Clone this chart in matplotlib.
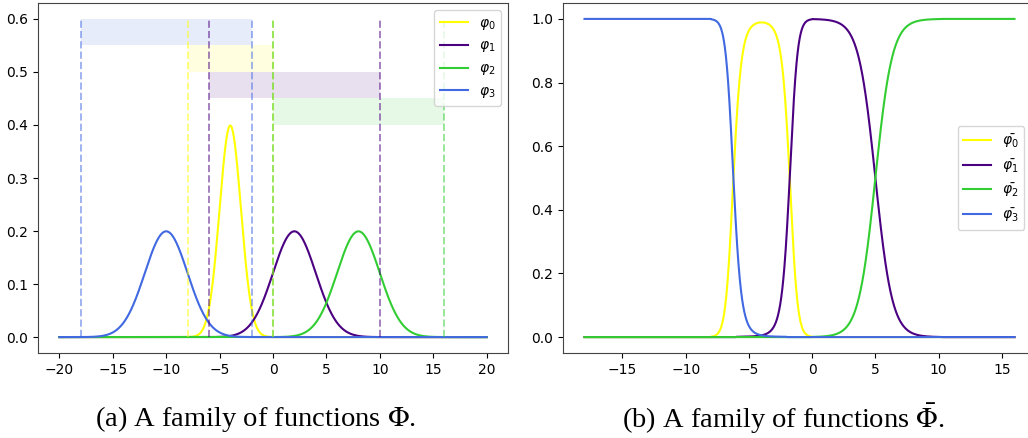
import numpy as np
import matplotlib
matplotlib.use('Agg')
import matplotlib.pyplot as plt

# parametros das funcoes (gaussianas)
labels = ['0', '1', '2', '3']
centros = [-4, 2, 8, -10]
sigmas = [1, 2, 2, 2]
janelas = [(-8, 0), (-6, 10), (0, 16), (-18, -2)]
faixas_y = [0.50, 0.45, 0.40, 0.55]
cores = ['#ffff00', '#4b0082', '#32cd32', '#4169e1']


def gauss(x, m, s):
    return np.exp(-(x - m) ** 2 / (2 * s ** 2)) / (s * np.sqrt(2 * np.pi))


fig = plt.figure(figsize=(10.28, 4.38), dpi=100)
ax1 = fig.add_axes([38 / 1028, 1 - 353 / 438, 470 / 1028, 350 / 438])
ax2 = fig.add_axes([563 / 1028, 1 - 353 / 438, 473 / 1028, 350 / 438])

# (a) familia de funcoes
x = np.linspace(-20, 20, 2001)
for i in range(4):
    ax1.plot(x, gauss(x, centros[i], sigmas[i]), color=cores[i], lw=1.5,
             label=r'$\varphi_%s$' % labels[i])
for i in range(4):
    a, b = janelas[i]
    ax1.vlines([a, b], 0, 0.6, colors=cores[i], linestyles='--', alpha=0.5, lw=1.4)
    ax1.fill_between([a, b], faixas_y[i], faixas_y[i] + 0.05, color=cores[i],
                     alpha=0.12, lw=0)
ax1.set_xticks([-20, -15, -10, -5, 0, 5, 10, 15, 20])
ax1.set_yticks([0.0, 0.1, 0.2, 0.3, 0.4, 0.5, 0.6])
ax1.legend(loc='upper right')

# (b) funcoes normalizadas nas janelas
x2 = np.linspace(-18, 16, 2001)
vals = []
for i in range(4):
    a, b = janelas[i]
    v = gauss(x2, centros[i], sigmas[i]) * ((x2 >= a) & (x2 <= b))
    vals.append(v)
vals = np.array(vals)
soma = vals.sum(axis=0)
soma[soma == 0] = 1
for i in range(4):
    ax2.plot(x2, vals[i] / soma, color=cores[i], lw=1.5,
             label=r'$\bar{\varphi_%s}$' % labels[i])
ax2.set_xticks([-15, -10, -5, 0, 5, 10, 15])
ax2.set_yticks([0.0, 0.2, 0.4, 0.6, 0.8, 1.0])
ax2.legend(loc='center right', bbox_to_anchor=(0.99, 0.5))

for ax in (ax1, ax2):
    for sp in ax.spines.values():
        sp.set_color('#444444')

fig.text(256 / 1028, 1 - 419 / 438, r'(a) A family of functions $\Phi$.',
         family='Liberation Serif', math_fontfamily='stix', fontsize=20.5,
         ha='center', va='center')
fig.text(783 / 1028, 1 - 419 / 438, r'(b) A family of functions $\bar{\Phi}$.',
         family='Liberation Serif', math_fontfamily='stix', fontsize=20.5,
         ha='center', va='center')

fig.savefig('out.png', dpi=100)
